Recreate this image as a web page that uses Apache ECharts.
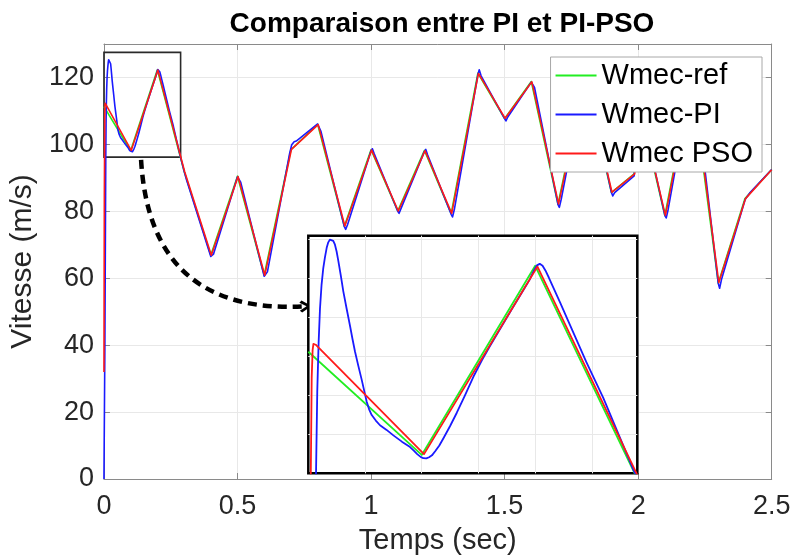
<!DOCTYPE html>
<html>
<head>
<meta charset="utf-8">
<script src="https://cdn.jsdelivr.net/npm/echarts@6/dist/echarts.min.js"></script>
<style>
  html, body { margin: 0; padding: 0; background: #fff; }
  #chart { width: 795px; height: 560px; }
</style>
</head>
<body>
<div id="chart"></div>
<script>
// Speed reference and the two controller responses, [time (s), speed (m/s)]
const refPoints = [
  [0, 111.3], [0.1, 98.1], [0.2, 122.3], [0.3, 92], [0.4, 66.9], [0.5, 90.5],
  [0.6, 60.9], [0.7, 98.4], [0.8, 106], [0.9, 75.5], [1.0, 98.4], [1.1, 80.1],
  [1.2, 98.2], [1.3, 79.3], [1.4, 121.3], [1.5, 107.7], [1.6, 118.8], [1.7, 82.1],
  [1.8, 120], [1.9, 85.6], [1.985, 91.2], [2.0, 113], [2.1, 78.7], [2.2, 120],
  [2.3, 58.5], [2.4, 83.8], [2.5, 92.5]
];

const piPoints = [
  [0, 0], [0.0035, 40], [0.0068, 95.7], [0.0079, 106.2], [0.0091, 112.5], [0.0103, 116.8],
  [0.0117, 119.9], [0.0132, 122.0], [0.0147, 123.4], [0.0162, 124.6], [0.0176, 125.3],
  [0.019, 125.65], [0.0205, 125.7], [0.022, 125.5], [0.0235, 125.0], [0.025, 124.1],
  [0.0265, 122.9], [0.0287, 121.0], [0.0309, 119.0], [0.0338, 116.8], [0.0368, 114.6],
  [0.0390, 112.9], [0.0412, 111.3], [0.0441, 109.5], [0.0471, 107.7], [0.0493, 106.3],
  [0.0515, 104.9], [0.0537, 103.9], [0.0559, 103.2], [0.0595, 102.5], [0.0632, 101.9],
  [0.069, 101.3], [0.075, 100.6], [0.0825, 99.8], [0.0897, 99.1], [0.093, 98.65],
  [0.096, 98.2], [0.099, 97.85], [0.1014, 97.68], [0.104, 97.65], [0.1065, 97.8],
  [0.109, 98.05], [0.112, 98.6], [0.1155, 99.3], [0.119, 100.2], [0.125, 101.8],
  [0.1309, 103.5], [0.138, 105.7], [0.1455, 108.1], [0.153, 110.2], [0.16, 112.0],
  [0.18, 116.9], [0.19, 119.3], [0.195, 120.5], [0.1985, 121.6], [0.2015, 122.35],
  [0.204, 122.55], [0.2065, 122.3], [0.209, 121.7], [0.212, 120.8], [0.216, 119.5],
  [0.222, 117.6], [0.228, 115.6], [0.235, 113.3], [0.245, 110.0], [0.26, 105.4],
  [0.2866, 96.2], [0.3, 92], [0.31, 89.2], [0.4, 66.5], [0.404, 66.1],
  [0.41, 67.2], [0.5, 90.3], [0.505, 90.7], [0.512, 88.7], [0.6, 60.6], [0.605, 60.1],
  [0.612, 61.9], [0.695, 97.2], [0.703, 99.9], [0.712, 100.8], [0.72, 101], [0.8, 106.1],
  [0.805, 106.2], [0.812, 104], [0.9, 75.4], [0.905, 74.6], [0.912, 76.0], [1.0, 98.1],
  [1.005, 98.7], [1.012, 97.2], [1.1, 80.0], [1.105, 79.4], [1.112, 80.8], [1.2, 97.9],
  [1.205, 98.5], [1.212, 96.8], [1.3, 79.1], [1.305, 78.3], [1.312, 80.6], [1.4, 120.8],
  [1.405, 122.3], [1.412, 120.5], [1.5, 107.7], [1.505, 107.0], [1.512, 108.2],
  [1.6, 118.6], [1.605, 119.1], [1.612, 117.0], [1.7, 82.0], [1.705, 81.2], [1.712, 83.6],
  [1.8, 119.8], [1.805, 120.6], [1.812, 118.3], [1.9, 85.6], [1.905, 84.6], [1.912, 85.6],
  [1.985, 90.6], [1.992, 98], [2.0, 111.5], [2.005, 112.8], [2.012, 110.6], [2.1, 78.8],
  [2.105, 78], [2.112, 80.4], [2.2, 119.6], [2.205, 120.5], [2.212, 118.5], [2.3, 58.4],
  [2.305, 57.0], [2.312, 59.6], [2.4, 83.4], [2.407, 84.3], [2.42, 85.7], [2.5, 92.5]
];

const psoPoints = [
  [0, 32], [0.0015, 85], [0.003, 108], [0.0038, 111.5], [0.0045, 112.3], [0.0055, 112.4],
  [0.0065, 112.2], [0.102, 98.2], [0.202, 122.2], [0.302, 91.9], [0.402, 66.9],
  [0.502, 90.4], [0.602, 60.9], [0.702, 98.5], [0.802, 105.9], [0.902, 75.6],
  [1.002, 98.3], [1.102, 80.1], [1.202, 98.1], [1.302, 79.4], [1.402, 121.2],
  [1.502, 107.8], [1.602, 118.7], [1.702, 82.2], [1.802, 119.9], [1.902, 85.7],
  [1.987, 91.2], [2.002, 112.8], [2.102, 78.8], [2.202, 119.9], [2.302, 58.7],
  [2.402, 83.8], [2.5, 92.4]
];

const seriesNames = ['Wmec-ref', 'Wmec-PI', 'Wmec PSO'];
const seriesColors = ['#22ee22', '#1a1aff', '#ff1a1a'];

// Region enlarged in the inset: [tMin, tMax], [vMin, vMax]
const zoomT = [0, 0.29];
const zoomV = [95.75, 126.15];
const zoomBox = [[0, 96.2], [0.287, 127.5]];

// Dashed arrow from the zoom box to the inset
const arrowPath = [[0.139, 95.4], [0.755, 51.6]];

const xTicks = [0, 2.5, 0.5];
const yTicks = [0, 130, 20];

const font = 'Liberation Sans, Arial, Helvetica, sans-serif';
const ink = '#262626';
const frame = '#8a8a8a';
const gridGray = '#e8e8e8';

const chart = echarts.init(document.getElementById('chart'), null, { renderer: 'canvas' });

const curves = [refPoints, piPoints, psoPoints];

function curveSeries(i, inset) {
  return {
    name: seriesNames[i], type: 'line', data: curves[i],
    xAxisIndex: inset ? 2 : 0, yAxisIndex: inset ? 2 : 0,
    showSymbol: false, symbol: 'none',
    lineStyle: { color: seriesColors[i], width: inset ? 1.8 : 1.6, join: 'round' },
    itemStyle: { color: seriesColors[i] },
    z: (inset ? 20 : 2) + i, animation: false, clip: true
  };
}

const series = [curveSeries(0), curveSeries(1), curveSeries(2)];
series[0].markArea = {
  silent: true,
  itemStyle: { color: 'rgba(0,0,0,0)', borderColor: '#2a2a2a', borderWidth: 1.6 },
  data: [[{ coord: zoomBox[0] }, { coord: zoomBox[1] }]]
};
series.push(curveSeries(0, true), curveSeries(1, true), curveSeries(2, true));
series.push({
  type: 'lines', coordinateSystem: 'cartesian2d', xAxisIndex: 0, yAxisIndex: 0,
  polyline: false, silent: true, animation: false, z: 10,
  symbol: ['none', 'path://M5,0 L10,6.2 L8.3,7.6 L5,3.2 L1.7,7.6 L0,6.2 Z'],
  symbolSize: [15, 12],
  lineStyle: { color: '#000', width: 4.5, type: [9, 6], curveness: -0.5, opacity: 1 },
  data: [{ coords: arrowPath }]
});

const option = {
  backgroundColor: '#fff',
  animation: false,
  textStyle: { fontFamily: font },
  title: {
    text: 'Comparaison entre PI et PI-PSO',
    left: 437, top: 5, textAlign: 'center',
    textStyle: { fontFamily: font, fontWeight: 'bold', fontSize: 28, color: '#000' }
  },
  legend: {
    data: seriesNames, orient: 'vertical', right: 33, top: 57,
    icon: 'rect',
    backgroundColor: '#fff', borderColor: '#a8a8a8', borderWidth: 1,
    padding: [4, 9, 4, 5], itemGap: 10, itemWidth: 41, itemHeight: 2,
    textStyle: { fontFamily: font, fontSize: 29, color: '#000' },
    selectedMode: false, z: 30
  },
  grid: [
    { left: 102.7, right: 23.3, top: 44, bottom: 75.7, show: false },
    { left: 308.3, top: 235.7, width: 329, height: 237.6, show: true, z: 15,
      backgroundColor: '#fff', borderColor: '#000', borderWidth: 2.5 }
  ],
  xAxis: [
    { type: 'value', gridIndex: 0, min: xTicks[0], max: xTicks[1], interval: xTicks[2],
      name: 'Temps (sec)', nameLocation: 'middle', nameGap: 47,
      nameTextStyle: { fontSize: 29, color: ink, fontFamily: font },
      axisLine: { show: true, lineStyle: { color: frame, width: 1 } },
      axisTick: { show: true, inside: true, length: 6, lineStyle: { color: frame } },
      axisLabel: { fontSize: 27, color: ink, margin: 14, fontFamily: font },
      splitLine: { show: true, lineStyle: { color: gridGray, width: 1 } } },
    { type: 'value', gridIndex: 0, position: 'top', min: xTicks[0], max: xTicks[1], interval: xTicks[2],
      axisLine: { show: true, onZero: false, lineStyle: { color: frame, width: 1 } },
      axisTick: { show: true, inside: true, length: 6, lineStyle: { color: frame } },
      axisLabel: { show: false }, splitLine: { show: false } },
    { type: 'value', gridIndex: 1, min: zoomT[0], max: zoomT[1], interval: 0.05,
      axisLine: { show: false }, axisTick: { show: false }, axisLabel: { show: false },
      splitLine: { show: true, showMinLine: false, showMaxLine: false,
        lineStyle: { color: gridGray, width: 1 } }, z: 16 }
  ],
  yAxis: [
    { type: 'value', gridIndex: 0, min: yTicks[0], max: yTicks[1], interval: yTicks[2],
      name: 'Vitesse (m/s)', nameLocation: 'middle', nameGap: 49,
      nameTextStyle: { fontSize: 30, color: ink, fontFamily: font },
      axisLine: { show: true, lineStyle: { color: frame, width: 1 } },
      axisTick: { show: true, inside: true, length: 6, lineStyle: { color: frame } },
      axisLabel: { fontSize: 27, color: ink, margin: 10, showMaxLabel: false, fontFamily: font },
      splitLine: { show: true, showMaxLine: false, lineStyle: { color: gridGray, width: 1 } } },
    { type: 'value', gridIndex: 0, position: 'right', min: yTicks[0], max: yTicks[1], interval: yTicks[2],
      axisLine: { show: true, onZero: false, lineStyle: { color: frame, width: 1 } },
      axisTick: { show: true, inside: true, length: 6, lineStyle: { color: frame } },
      axisLabel: { show: false }, splitLine: { show: false } },
    { type: 'value', gridIndex: 1, min: zoomV[0], max: zoomV[1], interval: 5,
      axisLine: { show: false }, axisTick: { show: false }, axisLabel: { show: false },
      splitLine: { show: true, showMinLine: false, showMaxLine: false,
        lineStyle: { color: gridGray, width: 1 } }, z: 16 }
  ],
  series: series
};

chart.setOption(option);
</script>
</body>
</html>
